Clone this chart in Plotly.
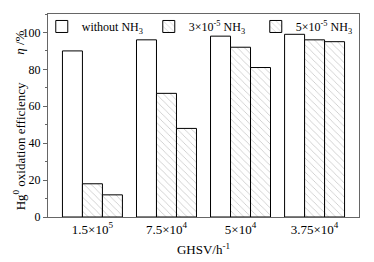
import plotly.graph_objects as go

categories = ["1.5×10<sup>5</sup>", "7.5×10<sup>4</sup>", "5×10<sup>4</sup>", "3.75×10<sup>4</sup>"]
without_nh3 = [90, 96, 98, 99]
nh3_3e5 = [18, 67, 92, 96]
nh3_5e5 = [12, 48, 81, 95]
series_names = ["without NH<sub>3</sub>", "3×10<sup>-5</sup> NH<sub>3</sub>", "5×10<sup>-5</sup> NH<sub>3</sub>"]

FONT = "Liberation Serif, Times New Roman, serif"
x = list(range(len(categories)))

fig = go.Figure()
fig.add_trace(go.Bar(x=x, y=without_nh3, name=series_names[0],
                     marker=dict(color="white", line=dict(color="black", width=1))))
for vals, name in [(nh3_3e5, series_names[1]), (nh3_5e5, series_names[2])]:
    fig.add_trace(go.Bar(x=x, y=vals, name=name,
                         marker=dict(color="white", line=dict(color="black", width=1),
                                     pattern=dict(shape="\\", fgcolor="#888888", bgcolor="white",
                                                  size=5, solidity=0.15))))

fig.update_layout(
    width=366, height=254,
    margin=dict(l=40, r=15, t=4, b=45),
    paper_bgcolor="white", plot_bgcolor="white",
    barmode="group", bargap=0.19, bargroupgap=0,
    font=dict(family=FONT, size=13, color="black"),
    showlegend=True,
    legend=dict(orientation="h", x=-0.02, y=1.01, xanchor="left", yanchor="top",
                bgcolor="rgba(0,0,0,0)", font=dict(size=12, family=FONT),
                itemwidth=30, tracegroupgap=0, entrywidth=62),
    xaxis=dict(tickmode="array", tickvals=x, ticktext=categories, range=[-0.6, 3.6],
               showline=True, linecolor="#666666", mirror=True, ticks="", showgrid=False,
               zeroline=False, automargin=False, tickfont=dict(size=13),
               title=dict(text="GHSV/h<sup>-1</sup>", font=dict(size=13, family=FONT), standoff=9)),
    yaxis=dict(range=[0, 110], tickvals=[0, 20, 40, 60, 80, 100], showline=True,
               linecolor="#666666", mirror=True, ticks="outside", ticklen=4, tickcolor="#666666",
               minor=dict(ticks="outside", ticklen=2, dtick=10, tickcolor="#666666"),
               showgrid=False, zeroline=False, automargin=False, tickfont=dict(size=12)),
)

fig.add_annotation(text="Hg<sup>0</sup> oxidation efficiency", textangle=-90,
                   xref="paper", yref="paper", x=-0.092, y=0.025, xanchor="center", yanchor="bottom",
                   showarrow=False, font=dict(size=13, family=FONT))
fig.add_annotation(text="<i>η</i> /%", textangle=-90,
                   xref="paper", yref="paper", x=-0.092, y=0.86, xanchor="center", yanchor="middle",
                   showarrow=False, font=dict(size=13, family=FONT))

fig.write_html("out.html")
